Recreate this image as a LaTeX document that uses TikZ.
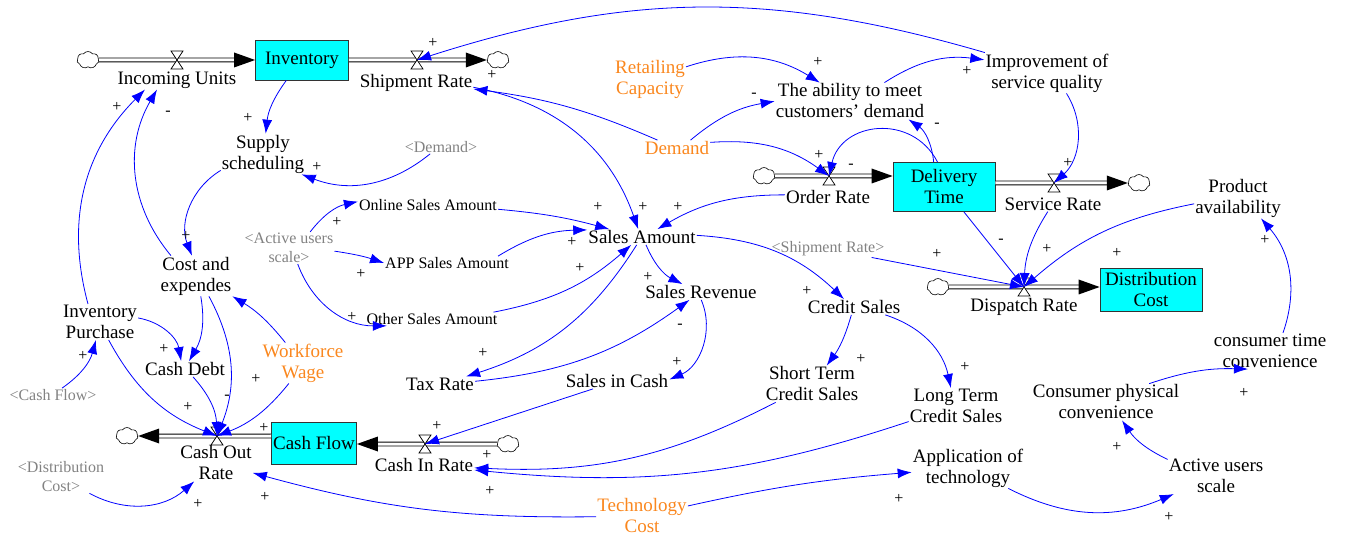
\documentclass[tikz,border=0pt]{standalone}
\usepackage{fontspec}
\setmainfont{Liberation Serif}
\usetikzlibrary{arrows.meta,shapes.symbols}

\definecolor{stockfill}{RGB}{0,255,255}
\definecolor{linkblue}{RGB}{0,0,255}
\definecolor{extorange}{RGB}{250,135,30}
\definecolor{shadowgray}{RGB}{130,130,130}

\tikzset{
  var/.style={font=\fontsize{19}{21}\selectfont, align=center, inner sep=1pt},
  small/.style={font=\fontsize{16}{19}\selectfont, align=center, inner sep=1pt},
  ext/.style={var, text=extorange},
  shadow/.style={small, text=shadowgray},
  stock/.style={var, draw=black!80, line width=0.8pt, fill=stockfill},
  cloudy/.style={cloud, draw, cloud puffs=7, cloud puff arc=110, aspect=1.3,
    minimum width=22pt, minimum height=17pt, inner sep=0pt, line width=0.6pt},
  pipe/.style={line width=0.9pt, double=white, double distance=3pt},
  lnk/.style={linkblue, line width=0.8pt, -{Latex[length=14pt,width=10pt]}},
  sgn/.style={font=\fontsize{16}{18}\selectfont, inner sep=0pt},
  pics/valve/.style={code={\draw[fill=white, line width=0.7pt] (-6,-9) -- (6,-9) -- (-6,9) -- (6,9) -- cycle;}},
  pics/flowtip/.style={code={\fill (0,0) -- (-21,-7.5) -- (-21,7.5) -- cycle;}},
}

\begin{document}
\begin{tikzpicture}[x=1pt,y=-1pt]
  \useasboundingbox (0,0) rectangle (1345,537);

  % stocks
  \node[stock, minimum width=93pt, minimum height=40pt] (inv) at (302,60) {Inventory};
  \node[stock, minimum width=102pt, minimum height=49pt] (dlv) at (944,187) {Delivery\\Time};
  \node[stock, minimum width=102pt, minimum height=43pt] (dist) at (1151,290) {Distribution\\Cost};
  \node[stock, minimum width=85pt, minimum height=42pt] (cash) at (314,443) {Cash Flow};

  % clouds
  \node[cloudy] (cinc) at (88,60) {};
  \node[cloudy] (cship) at (498,60) {};
  \node[cloudy] (cord) at (764,176) {};
  \node[cloudy] (csrv) at (1139,183) {};
  \node[cloudy] (cdsp) at (938,287) {};
  \node[cloudy] (cout) at (127,436) {};
  \node[cloudy] (cin) at (508,444) {};

  % valves
  \coordinate (vinc) at (177,60);
  \coordinate (vship) at (417,60);
  \coordinate (vord) at (829,176);
  \coordinate (vsrv) at (1054,183);
  \coordinate (vdsp) at (1024,287);
  \coordinate (vout) at (217,436);
  \coordinate (vin) at (425,444);

  % pipes
  \draw[pipe, shorten >=20pt] (cinc) -- (inv.west);
  \draw[pipe, shorten >=20pt] (inv.east) -- (cship);
  \draw[pipe, shorten >=20pt] (cord) -- (dlv.west |- cord);
  \draw[pipe, shorten >=20pt] (dlv.east |- csrv) -- (csrv);
  \draw[pipe, shorten >=20pt] (cdsp) -- (dist.west |- cdsp);
  \draw[pipe, shorten >=20pt] (cash.west |- cout) -- (cout);
  \draw[pipe, shorten >=20pt] (cin) -- (cash.east |- cin);
  \pic at (inv.west) {flowtip};
  \pic at (cship.west) {flowtip};
  \pic at (dlv.west |- cord) {flowtip};
  \pic at (csrv.west) {flowtip};
  \pic at (dist.west |- cdsp) {flowtip};
  \pic[xscale=-1] at (cout.east) {flowtip};
  \pic[xscale=-1] at (cash.east |- cin) {flowtip};
  \foreach \v in {vinc,vship,vord,vsrv,vdsp,vout,vin}
    \pic at (\v) {valve};

  % rate labels
  \node[var] (linc) at (177,80) {Incoming Units};
  \node[var] (lship) at (416,83) {Shipment Rate};
  \node[var] (lord) at (828,197) {Order Rate};
  \node[var] (lsrv) at (1053,204) {Service Rate};
  \node[var] (ldsp) at (1024,307) {Dispatch Rate};
  \node[var] (lout) at (216,463) {Cash Out\\Rate};
  \node[var] (lin) at (424,465) {Cash In Rate};

  % auxiliaries
  \node[var] (sup) at (263,154) {Supply\\scheduling};
  \node[var] (cost) at (196,276) {Cost and\\expendes};
  \node[var] (ipur) at (100,322) {Inventory\\Purchase};
  \node[var] (cdebt) at (185,369) {Cash Debt};
  \node[small] (onl) at (428,205) {Online Sales Amount};
  \node[small] (app) at (447,263) {APP Sales Amount};
  \node[small] (oth) at (432,319) {Other Sales Amount};
  \node[var] (samt) at (642,237) {Sales Amount};
  \node[var] (srev) at (701,292) {Sales Revenue};
  \node[var] (tax) at (440,384) {Tax Rate};
  \node[var] (sic) at (617,381) {Sales in Cash};
  \node[var] (csal) at (854,307) {Credit Sales};
  \node[var] (stcs) at (812,384) {Short Term\\Credit Sales};
  \node[var] (ltcs) at (956,406) {Long Term\\Credit Sales};
  \node[var] (able) at (850,101) {The ability to meet\\customers' demand};
  \node[var] (impr) at (1047,73) {Improvement of\\service quality};
  \node[var] (pav) at (1238,198) {Product\\availability};
  \node[var] (ctime) at (1270,351) {consumer time\\convenience};
  \node[var] (cphys) at (1106,402) {Consumer physical\\convenience};
  \node[var] (aus) at (1216,476) {Active users\\scale};
  \node[var] (appt) at (968,468) {Application of\\technology};

  % constants
  \node[ext] (rcap) at (650,79) {Retailing\\Capacity};
  \node[ext] (dem) at (677,148) {Demand};
  \node[ext] (wage) at (303,363) {Workforce\\Wage};
  \node[ext] (tcost) at (642,516) {Technology\\Cost};

  % shadow variables
  \node[shadow] (sdem) at (441,147) {<Demand>};
  \node[shadow] (saus) at (289,248) {<Active users\\scale>};
  \node[shadow] (sship) at (828,249) {<Shipment Rate>};
  \node[shadow] (scash) at (53,395) {<Cash Flow>};
  \node[shadow] (sdist) at (61,477) {<Distribution\\Cost>};

  % links
  \draw[lnk] (inv) to[bend right=15] (sup);
  \draw[lnk] (sdem) to[bend left=30] (sup);
  \draw[lnk] (sup) to[bend right=40] (cost);
  \draw[lnk] ([xshift=-25pt]cost.north) to[bend left=35] ([xshift=-20pt]linc.south);
  \draw[lnk] ([xshift=-12pt]ipur.north) to[bend left=30] ([xshift=-32pt]linc.south);
  \draw[lnk] (saus) to[bend left=20] (onl);
  \draw[lnk] (saus) to[bend left=5] (app.west);
  \draw[lnk] (saus) to[bend right=35] (oth);
  \draw[lnk] (onl) to[bend left=5] (samt);
  \draw[lnk] ([xshift=-12pt]app.north east) to[bend left=15] (samt);
  \draw[lnk] (oth) to[bend right=15] (samt);
  \draw[lnk] (lship) to[bend left=30] (samt);
  \draw[lnk] (dem) to[bend right=8] (lship);
  \draw[lnk] (lord) to[bend right=15] (samt);
  \draw[lnk] (samt) to[bend left=20] (tax);
  \draw[lnk] (tax) to[bend right=15] (srev);
  \draw[lnk] (samt) to[bend right=20] (srev);
  \draw[lnk] (srev) to[bend left=45] (sic);
  \draw[lnk] (samt) to[bend left=20] (csal);
  \draw[lnk] (csal) to[bend left=10] (stcs);
  \draw[lnk] (csal) to[bend left=30] (ltcs);
  \draw[lnk] (sic) -- (vin);
  \draw[lnk] (stcs) to[bend left=15] (lin);
  \draw[lnk] (ltcs) to[bend left=12] (lin);
  \draw[lnk] (tcost) to[bend left=8] (lout);
  \draw[lnk] (tcost) to[bend left=4] (appt);
  \draw[lnk] (appt) to[bend right=25] (aus);
  \draw[lnk] (aus) to[bend left=15] (cphys);
  \draw[lnk] (cphys) to[bend left=10] ([xshift=-22pt]ctime.south);
  \draw[lnk] ([xshift=13pt]ctime.north) to[bend right=30] (pav);
  \draw[lnk] (pav) to[bend right=15] (vdsp);
  \draw[lnk] (lsrv) to[bend right=15] (vdsp);
  \draw[lnk] (dlv) -- (vdsp);
  \draw[lnk] (sship) -- (vdsp);
  \draw[lnk] (dlv) to[bend right=25] (able);
  \draw[lnk] (dlv) to[bend right=70, looseness=1.3] (vord);
  \draw[lnk] (dem) to[bend left=20] (vord);
  \draw[lnk] (dem) to[bend left=15] (able);
  \draw[lnk] (rcap) to[bend left=25] (able);
  \draw[lnk] (able) to[bend left=20] (impr);
  \draw[lnk] (impr) to[bend right=17] (vship);
  \draw[lnk] (impr) to[bend left=40] (vsrv);
  \draw[lnk] (ipur) to[bend right=20] (vout);
  \draw[lnk] (ipur) to[bend left=35] (cdebt);
  \draw[lnk] (cost) to[bend left=20] (cdebt);
  \draw[lnk] (cost) to[bend left=25] (vout);
  \draw[lnk] (cdebt) to[bend left=20] (vout);
  \draw[lnk] (wage) to[bend right=10] (cost);
  \draw[lnk] (wage) to[bend left=15] (vout);
  \draw[lnk] (scash) to[bend right=20] (ipur);
  \draw[lnk] (sdist) to[bend right=35] (lout);

  % polarities
  \foreach \x/\y/\s [count=\i] in {248/118/+, 317/167/+, 433/43/+, 492/75/+,
      117/107/+, 168/113/-, 186/236/+, 337/222/+, 361/274/+, 352/317/+,
      598/207/+, 643/207/+, 678/207/+, 572/242/+, 580/268/+, 648/277/+,
      680/326/-, 483/353/+, 677/362/+, 861/359/+, 437/426/+, 487/455/+,
      490/491/+, 899/499/+, 807/291/+, 937/254/+, 1001/241/-, 1047/249/+,
      1117/253/+, 1265/240/+, 965/367/+, 1244/393/+, 1117/447/+, 1169/517/+,
      818/62/+, 754/95/-, 819/155/+, 851/166/-, 937/125/-, 967/71/+,
      1068/163/+, 83/356/+, 164/349/+, 188/407/+, 227/397/-, 256/379/+,
      264/428/+, 198/504/+, 265/497/+}
    \node[sgn] (pol\i) at (\x,\y) {\s};
\end{tikzpicture}
\end{document}
